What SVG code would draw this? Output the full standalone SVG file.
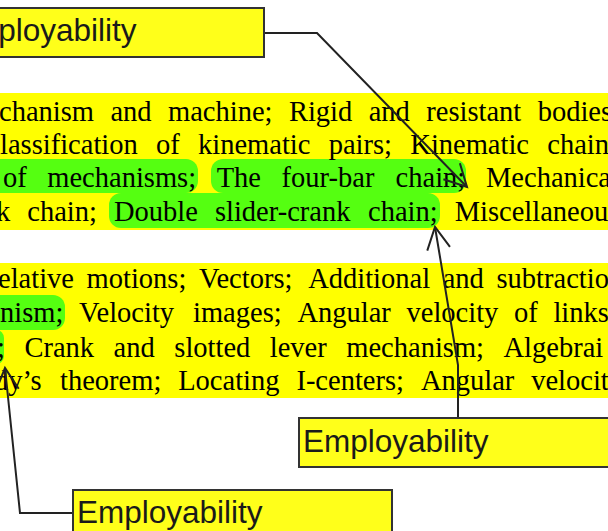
<svg xmlns="http://www.w3.org/2000/svg" width="608" height="531" viewBox="0 0 608 531">
  <style>
    .body { font-family: "Liberation Serif", "Times New Roman", serif; font-size: 28.5px; fill: #000; }
    .hl-y { fill: #ffff00; }
    .hl-g { fill: #55ff11; }
    .box { fill: #ffff1a; stroke: #333; stroke-width: 2; }
    .label { font-family: "Liberation Sans", Arial, sans-serif; font-size: 31.5px; fill: #1a1a1a; }
    .conn { fill: none; stroke: #222; stroke-width: 2; }
  </style>
  <defs>
    <marker id="open-arrow" markerUnits="userSpaceOnUse" viewBox="-26 -14 30 28" refX="0" refY="0" markerWidth="30" markerHeight="28" orient="auto" overflow="visible">
      <path d="M-22,-11.5 L0,0 L-22,11.5" fill="none" stroke="#222" stroke-width="2"/>
    </marker>
  </defs>

  <rect width="608" height="531" fill="#fff"/>

  <!-- highlighted syllabus paragraphs (justified lines, one tspan per word) -->
  <g id="syllabus">
    <rect class="hl-y" x="0" y="93" width="608" height="137"/>
    <rect class="hl-y" x="0" y="263" width="608" height="135"/>
    <rect class="hl-g" x="-30" y="159" width="228" height="34" rx="12"/>
    <rect class="hl-g" x="211" y="159" width="255" height="34" rx="12"/>
    <rect class="hl-g" x="109" y="193" width="331" height="35" rx="12"/>
    <rect class="hl-g" x="-30" y="295" width="95" height="35" rx="12"/>
    <rect class="hl-g" x="-30" y="330" width="34" height="34" rx="8"/>

    <text class="body" y="121"><tspan x="-1">chanism</tspan><tspan x="110.4">and</tspan><tspan x="168">machine;</tspan><tspan x="288.9">Rigid</tspan><tspan x="368.7">and</tspan><tspan x="426.3">resistant</tspan><tspan x="537.7">bodies</tspan></text>
    <text class="body" y="154"><tspan x="0">lassification</tspan><tspan x="156">of</tspan><tspan x="198">kinematic</tspan><tspan x="328.7">pairs;</tspan><tspan x="410.3">Kinematic</tspan><tspan x="547.3">chain</tspan></text>
    <text class="body" y="187"><tspan x="3">of</tspan><tspan x="47.3">mechanisms;</tspan><tspan x="216.7">The</tspan><tspan x="281.6">four-bar</tspan><tspan x="395.6">chain;</tspan><tspan x="486">Mechanica</tspan></text>
    <text class="body" y="221"><tspan x="-4">k</tspan><tspan x="27.3">chain;</tspan><tspan x="114">Double</tspan><tspan x="214.9">slider-crank</tspan><tspan x="368">chain;</tspan><tspan x="454.7">Miscellaneou</tspan></text>

    <text class="body" y="288"><tspan x="-2">elative</tspan><tspan x="86.6">motions;</tspan><tspan x="199">Vectors;</tspan><tspan x="308.2">Additional</tspan><tspan x="442.7">and</tspan><tspan x="496.5">subtractio</tspan></text>
    <text class="body" y="322"><tspan x="0">nism;</tspan><tspan x="79.1">Velocity</tspan><tspan x="193">images;</tspan><tspan x="297.4">Angular</tspan><tspan x="406.5">velocity</tspan><tspan x="514">of</tspan><tspan x="553.4">links</tspan></text>
    <text class="body" y="357"><tspan x="-3">;</tspan><tspan x="24.4">Crank</tspan><tspan x="113.6">and</tspan><tspan x="174.3">slotted</tspan><tspan x="269.8">lever</tspan><tspan x="346.3">mechanism;</tspan><tspan x="503.5">Algebrai</tspan></text>
    <text class="body" y="390"><tspan x="-6">dy’s</tspan><tspan x="60">theorem;</tspan><tspan x="178.2">Locating</tspan><tspan x="296.4">I-centers;</tspan><tspan x="420.9">Angular</tspan><tspan x="531.2">velocit</tspan></text>
  </g>

  <!-- callout connectors -->
  <g id="connectors">
    <polyline class="conn" points="264,33 317,33 467,187" marker-end="url(#open-arrow)"/>
    <polyline class="conn" points="458,418 458,365 435,227" marker-end="url(#open-arrow)"/>
    <polyline class="conn" points="73,513 20,513 5,368" marker-end="url(#open-arrow)"/>
  </g>

  <!-- callout boxes -->
  <g id="callout-top">
    <rect class="box" x="-53" y="8" width="317" height="49"/>
    <text class="label" x="-49" y="41">Employability</text>
  </g>
  <g id="callout-middle">
    <rect class="box" x="299" y="418" width="330" height="49"/>
    <text class="label" x="303" y="452">Employability</text>
  </g>
  <g id="callout-bottom">
    <rect class="box" x="73" y="490" width="319" height="60"/>
    <text class="label" x="77" y="523">Employability</text>
  </g>
</svg>
